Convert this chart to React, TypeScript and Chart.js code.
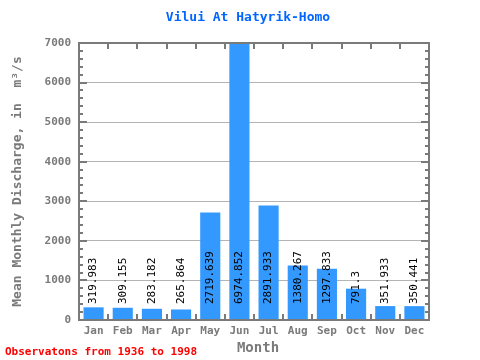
import React, { useEffect, useRef } from "react";
import { Chart, registerables } from "chart.js";

Chart.register(...registerables);

const months = ["Jan", "Feb", "Mar", "Apr", "May", "Jun", "Jul", "Aug", "Sep", "Oct", "Nov", "Dec"];
const discharge = [319.983, 309.155, 283.182, 265.864, 2719.639, 6974.852, 2891.933, 1380.267, 1297.833, 791.3, 351.933, 350.441];
const valueLabels = ["319.983", "309.155", "283.182", "265.864", "2719.639", "6974.852", "2891.933", "1380.267", "1297.833", "791.3", "351.933", "350.441"];
const yMax = 7000;
const yStep = 1000;
const minorStep = 200;
const titleText = "Vilui At Hatyrik-Homo";
const yTitle = "Mean Monthly Discharge, in  m³/s";
const xTitle = "Month";
const footText = "Observatons from 1936 to 1998";

const FONT = "'DejaVu Sans Mono', 'Liberation Mono', monospace";
const GREY = "#7a7a7a";

const decorPlugin = {
  id: "decor",
  afterDatasetsDraw(chart: any) {
    const ctx = chart.ctx;
    const meta = chart.getDatasetMeta(0);
    const yScale = chart.scales.y;
    ctx.save();
    ctx.fillStyle = "#000";
    ctx.font = `11px ${FONT}`;
    ctx.textBaseline = "middle";
    ctx.textAlign = "left";
    meta.data.forEach((bar: any, i: number) => {
      const base = yScale.getPixelForValue(0);
      ctx.save();
      ctx.translate(bar.x, base - 16);
      ctx.rotate(-Math.PI / 2);
      ctx.fillText(valueLabels[i], 0, 0);
      ctx.restore();
    });
    ctx.restore();
  },
  afterDraw(chart: any) {
    const ctx = chart.ctx;
    const a = chart.chartArea;
    const yScale = chart.scales.y;
    const xScale = chart.scales.x;
    ctx.save();
    ctx.strokeStyle = GREY;
    ctx.lineWidth = 2;
    ctx.strokeRect(a.left, a.top, a.right - a.left, a.bottom - a.top);
    const n = months.length;
    const w = (a.right - a.left) / n;
    ctx.beginPath();
    for (let i = 1; i < n; i++) {
      const x = Math.round(xScale.left + w * i);
      ctx.moveTo(x, a.top);
      ctx.lineTo(x, a.top + 6);
      ctx.moveTo(x, a.bottom);
      ctx.lineTo(x, a.bottom - 6);
    }
    for (let v = 0; v <= yMax; v += minorStep) {
      const y = Math.round(yScale.getPixelForValue(v));
      const major = v % yStep === 0;
      const len = major ? 8 : 4;
      ctx.moveTo(a.left, y);
      ctx.lineTo(a.left + len, y);
      ctx.moveTo(a.right, y);
      ctx.lineTo(a.right - len, y);
    }
    ctx.stroke();

    ctx.fillStyle = "#0066ff";
    ctx.font = `bold 13px ${FONT}`;
    ctx.textAlign = "center";
    ctx.textBaseline = "middle";
    ctx.fillText(titleText, 248, 18);

    ctx.save();
    ctx.fillStyle = GREY;
    ctx.font = `bold 13px ${FONT}`;
    ctx.translate(18, (a.top + a.bottom) / 2);
    ctx.rotate(-Math.PI / 2);
    ctx.fillText(yTitle, 0, 0);
    ctx.restore();

    ctx.fillStyle = GREY;
    ctx.font = `bold 14px ${FONT}`;
    ctx.fillText(xTitle, 258, 348);

    ctx.fillStyle = "#ff0000";
    ctx.font = `bold 11px ${FONT}`;
    ctx.textAlign = "left";
    ctx.fillText(footText, 5, 352);
    ctx.restore();
  },
};

export default function App() {
  const ref = useRef<HTMLCanvasElement | null>(null);
  useEffect(() => {
    if (!ref.current) return;
    const chart = new Chart(ref.current, {
      type: "bar",
      data: {
        labels: months,
        datasets: [
          {
            data: discharge,
            backgroundColor: "#3399ff",
            borderWidth: 0,
            categoryPercentage: 0.69,
            barPercentage: 1,
          },
        ],
      },
      options: {
        animation: false,
        responsive: false,
        maintainAspectRatio: false,
        layout: { padding: { left: 0, right: 51, top: 43, bottom: 0 } },
        plugins: { legend: { display: false }, title: { display: false }, tooltip: { enabled: false } },
        scales: {
          x: {
            grid: { display: false, drawTicks: false, tickLength: 0 },
            border: { display: false },
            ticks: { color: GREY, font: { family: FONT, size: 11, weight: "bold" }, padding: 5, maxRotation: 0 },
            afterFit: (s: any) => {
              s.height = 40;
            },
          },
          y: {
            min: 0,
            max: yMax,
            grid: { color: "#b4b4b4", lineWidth: 1, drawTicks: false },
            border: { display: false },
            ticks: {
              stepSize: yStep,
              color: GREY,
              font: { family: FONT, size: 11, weight: "bold" },
              padding: 8,
              callback: (v: any) => String(v),
            },
            afterFit: (s: any) => {
              s.width = 79;
            },
          },
        },
      },
      plugins: [decorPlugin],
    });
    return () => chart.destroy();
  }, []);
  return (
    <div style={{ position: "fixed", left: 0, top: 0, width: 480, height: 360, background: "#fff" }}>
      <canvas ref={ref} width={480} height={360} />
    </div>
  );
}
